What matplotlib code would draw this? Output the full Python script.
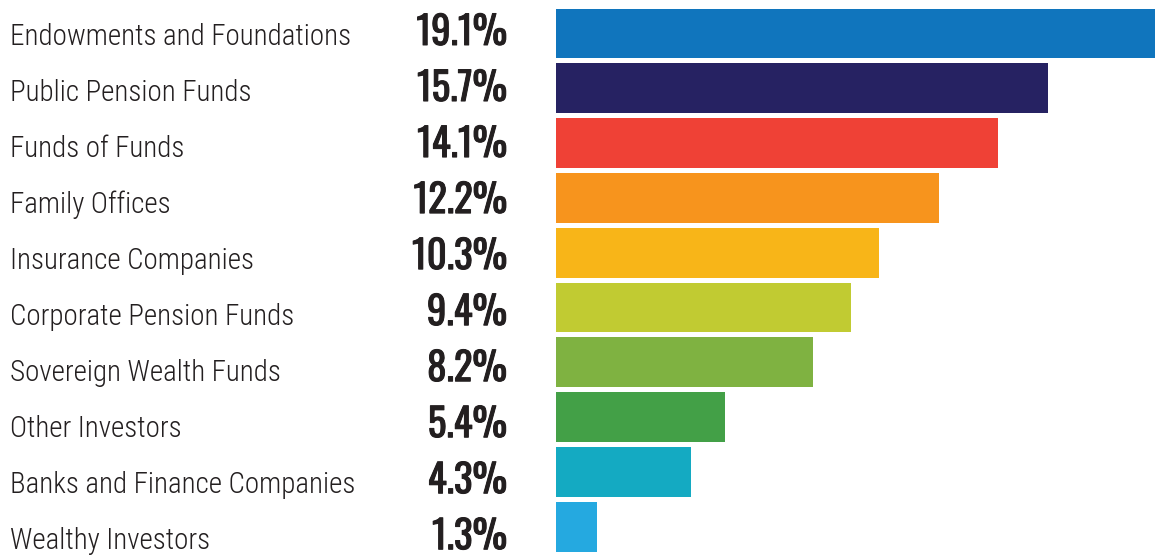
import matplotlib
matplotlib.use("Agg")
import matplotlib.pyplot as plt
import matplotlib.patheffects as pe

categories = ["Endowments and Foundations", "Public Pension Funds", "Funds of Funds",
              "Family Offices", "Insurance Companies", "Corporate Pension Funds",
              "Sovereign Wealth Funds", "Other Investors", "Banks and Finance Companies",
              "Wealthy Investors"]
values = [19.1, 15.7, 14.1, 12.2, 10.3, 9.4, 8.2, 5.4, 4.3, 1.3]
value_labels = ["19.1%", "15.7%", "14.1%", "12.2%", "10.3%", "9.4%", "8.2%", "5.4%", "4.3%", "1.3%"]
colors = ["#1075bd", "#262262", "#ef4136", "#f7941d", "#f8b518",
          "#c1cb32", "#7fb241", "#43a047", "#14aac2", "#25a9e0"]

W, H = 1155, 556
fig = plt.figure(figsize=(W / 100, H / 100), dpi=100)
ax = fig.add_axes([556 / W, 0, 599 / W, 1])
ypos = list(range(len(values)))
ax.barh(ypos, values, height=0.91, color=colors)
ax.set_xlim(0, max(values))
pitch = 54.8
ax.set_ylim((H - 33.5) / pitch, -33.5 / pitch)
ax.axis("off")

txtc = "#231f20"
text_pitch = 56.03
first_base = 45.0
for y, cat, lab in zip(ypos, categories, value_labels):
    yb = 1 - (first_base + text_pitch * y) / H
    fig.text(10 / W, yb, cat, ha="left", va="baseline",
             fontsize=20.9, family=["Roboto Condensed", "DejaVu Sans"], fontweight="light",
             color=txtc)
    fig.text(507 / W, yb, lab, ha="right", va="baseline",
             fontsize=28.0, family=["Oswald", "DejaVu Sans"], fontweight="normal", color=txtc,
             path_effects=[pe.withStroke(linewidth=0.7, foreground=txtc)])

fig.savefig("out.png", dpi=100)
